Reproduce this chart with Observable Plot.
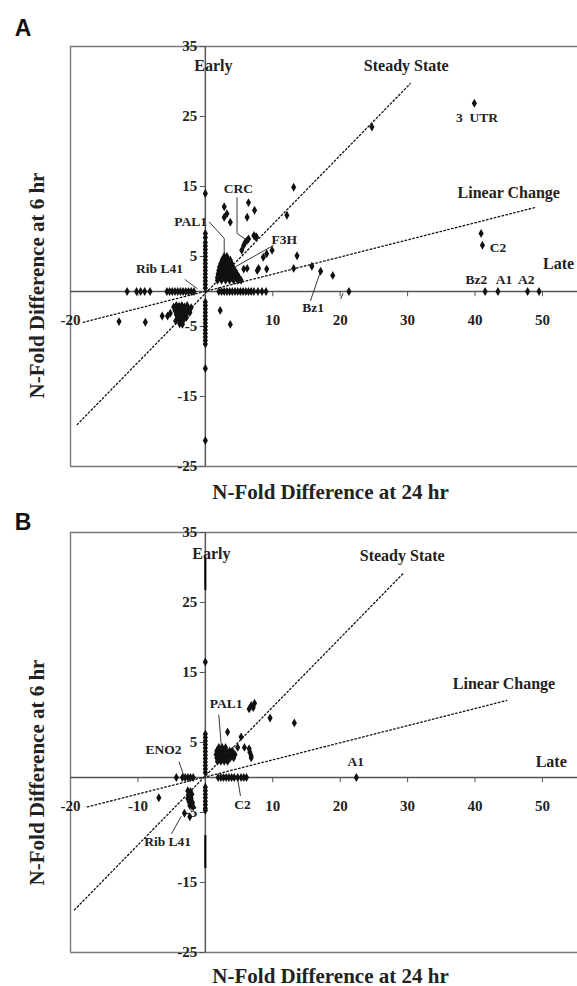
<!DOCTYPE html>
<html>
<head>
<meta charset="utf-8">
<script src="https://cdn.jsdelivr.net/npm/d3@7"></script>
<script src="https://cdn.jsdelivr.net/npm/@observablehq/plot@0.6"></script>
<style>
  html, body { margin: 0; padding: 0; background: #fff; }
  #chart svg { display: block; }
</style>
</head>
<body>
<div id="chart"></div>
<script>
// ---------- data ----------
const xDomain = [-20, 55.2];
const yDomain = [-25, 35];
const yTickValues = [35, 25, 15, 5, -5, -15, -25];
const xTickMarks = [-10, 10, 20, 30, 40, 50];
const xTickLabelsA = [-20, 10, 20, 30, 40, 50];
const xTickLabelsB = [-20, -10, 10, 20, 30, 40, 50];

// Panel A points [24 hr, 6 hr]
const pointsA = [
  // y axis (x = 0)
  [0,0.5],[0,1],[0,1.5],[0,2],[0,2.5],[0,3],[0,3.5],[0,4],[0,4.5],[0,5],[0,5.5],[0,6],[0,6.5],[0,7],[0,7.7],[0,8.3],[0,14],
  [0,-1.5],[0,-2],[0,-2.5],[0,-3],[0,-3.5],[0,-4],[0,-4.5],[0,-5],[0,-5.5],[0,-6],[0,-6.5],[0,-7],[0,-7.5],[0,-11],[0,-21.3],
  // x axis (y = 0)
  [2,0],[2.4,0],[2.8,0],[3.2,0],[3.6,0],[4,0],[4.4,0],[4.8,0],[5.2,0],[5.6,0],[6,0],[6.4,0],[6.8,0],[7.2,0],[7.8,0],[8.4,0],[9,0],
  [21.3,0],[41.5,0],[43.4,0],[47.8,0],[49.5,0],
  [-11.6,0],[-10.2,0],[-9.6,0],[-9,0],[-8.2,0],[-5.7,0],[-5.3,0],[-4.9,0],[-4.5,0],[-4.1,0],[-3.7,0],[-3.3,0],[-2.9,0],[-2.5,0],[-2.1,0],[-1.7,0],
  // negative cluster
  [-4.7,-2.2],[-4.3,-2],[-3.9,-2.1],[-3.5,-2],[-3.1,-2.2],[-2.7,-2],[-4.5,-2.7],[-4.1,-2.8],[-3.7,-2.6],[-3.3,-2.7],[-2.9,-2.8],[-2.5,-2.5],[-2.1,-2.3],
  [-4.3,-3.3],[-3.9,-3.4],[-3.5,-3.2],[-3.1,-3.4],[-2.7,-3.1],[-2.3,-3],[-4,-4],[-3.6,-3.9],[-3.2,-4],[-2.8,-3.7],[-4.4,-4.2],[-3.8,-4.6],[-3.4,-4.7],
  [-6.4,-3.5],[-5.6,-3.5],[-5.2,-3.1],[-8.9,-4.4],[-12.8,-4.3],
  [2.2,-2.7],[3.7,-4.7],
  // positive cluster
  [2.8,5],[3.2,5],
  [2.5,4.5],[2.9,4.5],[3.3,4.5],[3.7,4.5],
  [2.3,4],[2.7,4],[3.1,4],[3.5,4],[3.9,4],
  [2.1,3.5],[2.5,3.5],[2.9,3.5],[3.3,3.5],[3.7,3.5],[4.1,3.5],
  [2,3],[2.4,3],[2.8,3],[3.2,3],[3.6,3],[4,3],[4.4,3],
  [1.9,2.5],[2.3,2.5],[2.7,2.5],[3.1,2.5],[3.5,2.5],[3.9,2.5],[4.3,2.5],[4.7,2.5],
  [1.8,2],[2.2,2],[2.6,2],[3,2],[3.4,2],[3.8,2],[4.2,2],[4.6,2],[5,2],
  [1.8,1.6],[2.4,1.6],[3,1.6],[3.6,1.6],[4.2,1.6],[4.8,1.6],[5.3,1.6],
  // scattered
  [5.7,3.2],[6.2,3.3],[7.7,3],[7.9,3.3],[9.1,3.2],[5.4,5.9],[5.7,6.6],[5.9,7],[6.4,7.5],[7.2,8],[7.6,7.8],
  [8.6,4.9],[9.1,5.4],[9.9,5.9],[2.8,12.1],[3.2,11.1],[3.7,9.9],[2.8,10.6],[6.4,12.7],[7.3,11.6],[6.2,10.6],
  [13.1,14.9],[12.1,10.9],[6.2,7.3],[7.4,7.8],[13.6,5.1],[13.1,3.3],[15.8,3.6],[17.1,2.9],[18.9,2.3],
  [24.7,23.5],[39.9,26.9],[40.9,8.3],[41.1,6.6]
];

// Panel B points [24 hr, 6 hr]
const pointsB = [
  [0,0.7],[0,1.2],[0,1.7],[0,2.2],[0,2.7],[0,3.2],[0,3.7],[0,4.2],[0,4.7],[0,5.2],[0,5.7],[0,6.2],[0,16.5],
  [0,-1.4],[0,-1.9],[0,-2.4],[0,-2.9],[0,-3.4],[0,-3.9],[0,-4.4],[0,-4.7],
  [1.9,0],[2.3,0],[2.7,0],[3.1,0],[3.5,0],[3.9,0],[4.3,0],[4.8,0],[5.3,0],[5.7,0],[6.1,0],[22.4,0],
  [-4.3,0],[-3.4,0],[-3,0],[-2.6,0],[-2.2,0],[-1.8,0],
  [-2.6,-1.9],[-2.2,-2],[-2.5,-2.5],[-2,-2.4],[-2.6,-3],[-2.1,-3],[-2.4,-3.5],[-1.9,-3.6],[-2.3,-4],[-1.8,-4.2],
  [-6.9,-2.9],[-3.1,-5.1],[-2.3,-5.6],
  [2,4.3],[2.5,4.3],[3,4.3],
  [1.7,3.8],[2.1,3.8],[2.6,3.8],[3.1,3.8],[3.6,3.8],[4,3.8],
  [1.6,3.3],[2,3.3],[2.5,3.3],[3,3.3],[3.5,3.3],[4,3.3],[4.4,3.3],
  [1.7,2.8],[2.2,2.8],[2.7,2.8],[3.2,2.8],[3.7,2.8],[4.2,2.8],
  [1.8,2.3],[2.3,2.3],[2.8,2.3],[3.3,2.3],
  [3.3,6.5],[5.3,5.8],[4.8,4.3],[5.8,4.3],[6.6,3.6],[6.8,3.1],[6.8,2.8],[6.5,4.1],
  [6.5,9.8],[6.8,10.3],[7.1,10],[7.3,10.6],[9.6,8.5],[13.2,7.8]
];

// reference lines
const steadyA = [[-19, -19], [30.4, 29.7]];
const linearA = [[-18.1, -4.4], [48.9, 12]];
const steadyB = [[-19.4, -18.9], [29.5, 29.3]];
const linearB = [[-17.5, -4.2], [44.7, 11]];

// region labels
const regionLabelsA = ["Early", "Steady State", "Linear Change", "Late"];
const regionPosA = [[1.2, 32.3], [29.8, 32.3], [45, 14.1], [52.4, 3.9]];
const regionLabelsB = ["Early", "Steady State", "Linear Change", "Late"];
const regionPosB = [[0.9, 32], [29.2, 31.6], [44.3, 13.4], [51.3, 2.2]];

// gene labels
const geneLabelsA = ["3\u2002UTR", "C2", "Bz2", "A1", "A2", "Bz1", "CRC", "PAL1", "F3H", "Rib L41"];
const genePosA = [[40.3, 24.9], [43.4, 6.3], [40.2, 1.7], [44.3, 1.7], [47.6, 1.7], [16, -2.3], [4.9, 14.7], [-2.2, 10], [11.7, 7.4], [-6.8, 3.3]];
const geneLabelsB = ["PAL1", "ENO2", "C2", "Rib L41", "A1"];
const genePosB = [[3.1, 10.5], [-6.2, 4], [5.5, -3.9], [-5.6, -9.2], [22.3, 2.2]];

// leader lines
const leadersA = [
  [[4.7, 13.4], [4.7, 8.3], [6.2, 7.3]],
  [[0.6, 9.9], [2.8, 7.6], [2.8, 5.1]],
  [[10.1, 6.6], [4.6, 3.6]],
  [[-3, 1.7], [-1.2, 0.4]],
  [[15.6, -1.3], [17.1, 2.9]],
  [[20.1, -1.0], [20.4, -0.3]]
];
const leadersB = [
  [[2, 8.9], [2.4, 4.1]],
  [[-3.9, 2.2], [-3.2, 0.3]],
  [[5.2, -2.6], [4.8, -0.2]],
  [[-5, -8], [-3.6, -5.6]]
];
// dark stretches of the y axis in panel B
const darkAxisB = [[26.7, 31.4], [-13, -8.3]];

const xTitle = "N-Fold Difference at 24 hr";
const yTitle = "N-Fold Difference at 6 hr";

// ---------- drawing ----------
const serif = "'Liberation Serif', 'Times New Roman', serif";
const sans = "'Liberation Sans', Arial, sans-serif";

function toLines(list) {
  const rows = [];
  list.forEach((seg, i) => seg.forEach(([x, y]) => rows.push({x, y, k: i})));
  return rows;
}
function toLabels(names, pos) {
  return names.map((t, i) => ({t, x: pos[i][0], y: pos[i][1]}));
}

function panel(o) {
  const regions = toLabels(o.regionLabels, o.regionPos);
  const genes = toLabels(o.geneLabels, o.genePos);
  const marks = [
    // frame
    Plot.ruleX([-20], {stroke: "#7a7a7a", strokeWidth: 1.4}),
    Plot.ruleY([35, -25], {stroke: "#7a7a7a", strokeWidth: 1.4}),
    // axes through origin
    Plot.ruleY([0], {stroke: "#555", strokeWidth: 1.5}),
    Plot.ruleX([0], {stroke: "#555", strokeWidth: 1.5}),
    Plot.ruleX(xTickMarks, {x: d => d, y1: 0, y2: -0.75, stroke: "#555", strokeWidth: 1}),
    Plot.ruleY(yTickValues, {y: d => d, x1: -0.75, x2: 0, stroke: "#555", strokeWidth: 1}),
    // tick labels
    Plot.text(o.xTickLabels, {x: d => d, y: 0, text: d => String(d), dy: 29, fontFamily: serif, fontWeight: "bold", fontSize: 15, fill: "#222"}),
    Plot.text(yTickValues, {x: 0, y: d => d, text: d => String(d), dx: -8, textAnchor: "end", fontFamily: serif, fontWeight: "bold", fontSize: 15, fill: "#222"}),
    // reference lines
    Plot.line(o.steady, {x: d => d[0], y: d => d[1], stroke: "#111", strokeWidth: 1.3, strokeDasharray: "1.6,2.4"}),
    Plot.line(o.linear, {x: d => d[0], y: d => d[1], stroke: "#111", strokeWidth: 1.3, strokeDasharray: "1.6,2.4"}),
    // leaders
    Plot.line(toLines(o.leaders), {x: "x", y: "y", z: "k", stroke: "#222", strokeWidth: 0.9}),
    // points
    Plot.dot(o.points, {x: d => d[0], y: d => d[1], symbol: "diamond", r: 2.7, fill: "#111", stroke: "none"}),
    // region labels
    Plot.text(regions, {x: "x", y: "y", text: "t", textAnchor: d => d.t === "Early" ? "start" : "middle", fontFamily: serif, fontWeight: "bold", fontSize: 16, fill: "#222"}),
    // gene labels
    Plot.text(genes, {x: "x", y: "y", text: "t", fontFamily: serif, fontWeight: "bold", fontSize: 13.5, fill: "#222"}),
    // axis titles
    Plot.text([xTitle], {frameAnchor: "bottom", text: d => d, dx: 6.5, dy: o.xTitleDy, textAnchor: "middle", lineAnchor: "bottom", fontFamily: serif, fontWeight: "bold", fontSize: 21, fill: "#222"}),
    Plot.text([yTitle], {frameAnchor: "left", text: d => d, rotate: -90, dx: -33, dy: o.yTitleDy, textAnchor: "middle", lineAnchor: "middle", fontFamily: serif, fontWeight: "bold", fontSize: 21, fill: "#222"}),
    // panel letter
    Plot.text([o.letter], {frameAnchor: "top-left", text: d => d, dx: -47.5, dy: o.letterDy, textAnchor: "middle", lineAnchor: "middle", fontFamily: sans, fontWeight: "bold", fontSize: 23, fill: "#111"})
  ];
  if (o.dark) {
    marks.push(Plot.ruleX(o.dark, {x: 0, y1: d => d[0], y2: d => d[1], stroke: "#000", strokeWidth: 2}));
  }
  return Plot.plot({
    width: 577,
    height: o.height,
    marginLeft: 70,
    marginRight: 0,
    marginTop: o.marginTop,
    marginBottom: o.marginBottom,
    x: {domain: xDomain, axis: null},
    y: {domain: yDomain, axis: null},
    style: {background: "#fff", overflow: "visible"},
    marks
  });
}

const chart = document.getElementById("chart");
chart.appendChild(panel({
  letter: "A", height: 505, marginTop: 46, marginBottom: 39,
  points: pointsA, steady: steadyA, linear: linearA,
  regionLabels: regionLabelsA, regionPos: regionPosA,
  geneLabels: geneLabelsA, genePos: genePosA,
  leaders: leadersA, xTickLabels: xTickLabelsA,
  xTitleDy: 32, yTitleDy: 29, letterDy: -18.3
}));
chart.appendChild(panel({
  letter: "B", height: 481, marginTop: 27, marginBottom: 34,
  points: pointsB, steady: steadyB, linear: linearB,
  regionLabels: regionLabelsB, regionPos: regionPosB,
  geneLabels: geneLabelsB, genePos: genePosB,
  leaders: leadersB, xTickLabels: xTickLabelsB, dark: darkAxisB,
  xTitleDy: 30, yTitleDy: 30, letterDy: -10
}));
</script>
</body>
</html>
